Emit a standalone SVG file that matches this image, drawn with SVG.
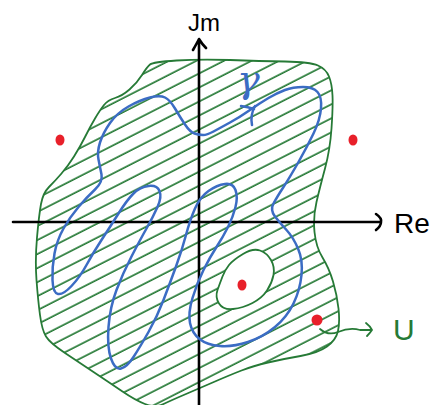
<svg xmlns="http://www.w3.org/2000/svg" width="434" height="405" viewBox="0 0 434 405">
<style>
.green{fill:none;stroke:#267a36;stroke-width:1.8;stroke-linecap:round;stroke-linejoin:round}
.blue{fill:none;stroke:#3b6cc4;stroke-width:2.5;stroke-linecap:round;stroke-linejoin:round}
.axis{fill:none;stroke:#000;stroke-width:2.6;stroke-linecap:round;stroke-linejoin:round}
.dot{fill:#e8202a}
.lbl{font-family:"Liberation Sans",Arial,sans-serif}
</style>
<defs>
<pattern id="hatch" patternUnits="userSpaceOnUse" width="120" height="12.5" patternTransform="rotate(-27)">
<line x1="0" y1="6" x2="120" y2="6" stroke="#267a36" stroke-width="1.7"/>
</pattern>
</defs>
<rect width="434" height="405" fill="#fff"/>
<g id="region-U">
<path fill="url(#hatch)" fill-rule="evenodd" stroke="none" d="M150,64.5 Q153,62 176.5,60.5 Q200,59 230,60 Q260,61 285,61.5 Q310,62 318,65.5 Q326,69 329,76.5 Q332,84 332.5,95.5 Q333,107 331.5,128.5 Q330,150 325,168.5 Q320,187 316.5,202 Q313,217 314.5,232 Q316,247 322.5,257.5 Q329,268 333,281.5 Q337,295 338.5,308.5 Q340,322 338,331 Q336,340 327,346.5 Q318,353 300.5,356 Q283,359 268,362.5 Q253,366 241.5,370.5 Q230,375 215,381.5 Q200,388 186,394 Q172,400 163.5,404 Q155,408 145,404 Q135,400 122.5,391.5 Q110,383 95,373 Q80,363 65,353 Q50,343 46,336.5 Q42,330 40,315 Q38,300 36.5,280 Q35,260 37,237.5 Q39,215 41,204 Q43,193 49,187 Q55,181 61.5,173.5 Q68,166 74,156.5 Q80,147 85,137 Q90,127 95,118.5 Q100,110 104,105 Q108,100 115,98 Q122,96 129.5,89.5 Q137,83 142,75 Q147,67 150,64.5 Z M229,265 Q233,260 243,254 Q253,248 260,250.5 Q267,253 271,260 Q275,267 273.5,275 Q272,283 267,290.5 Q262,298 252.5,303 Q243,308 233,309 Q223,310 219,303.5 Q215,297 217.5,290 Q220,283 222.5,276.5 Q225,270 229,265 Z"/>
<path class="green" d="M150,64.5 Q153,62 176.5,60.5 Q200,59 230,60 Q260,61 285,61.5 Q310,62 318,65.5 Q326,69 329,76.5 Q332,84 332.5,95.5 Q333,107 331.5,128.5 Q330,150 325,168.5 Q320,187 316.5,202 Q313,217 314.5,232 Q316,247 322.5,257.5 Q329,268 333,281.5 Q337,295 338.5,308.5 Q340,322 338,331 Q336,340 327,346.5 Q318,353 300.5,356 Q283,359 268,362.5 Q253,366 241.5,370.5 Q230,375 215,381.5 Q200,388 186,394 Q172,400 163.5,404 Q155,408 145,404 Q135,400 122.5,391.5 Q110,383 95,373 Q80,363 65,353 Q50,343 46,336.5 Q42,330 40,315 Q38,300 36.5,280 Q35,260 37,237.5 Q39,215 41,204 Q43,193 49,187 Q55,181 61.5,173.5 Q68,166 74,156.5 Q80,147 85,137 Q90,127 95,118.5 Q100,110 104,105 Q108,100 115,98 Q122,96 129.5,89.5 Q137,83 142,75 Q147,67 150,64.5 Z"/>
<path class="green" d="M229,265 Q233,260 243,254 Q253,248 260,250.5 Q267,253 271,260 Q275,267 273.5,275 Q272,283 267,290.5 Q262,298 252.5,303 Q243,308 233,309 Q223,310 219,303.5 Q215,297 217.5,290 Q220,283 222.5,276.5 Q225,270 229,265 Z"/>
</g>
<g id="axes">
<path class="axis" d="M13,222 L381,222 M376,214 Q382,218 381,222 Q381,226 376,230"/>
<path class="axis" d="M199,405 L199,40 M193,50 Q197,43 199,39 Q202,44 206,48"/>
</g>
<g id="curve-gamma">
<path class="blue" d="M203,135 Q199,135 194.5,133.5 Q190,132 185,124.5 Q180,117 175,108.5 Q170,100 165,97.5 Q160,95 150,97.5 Q140,100 128.5,106.5 Q117,113 110,123 Q103,133 100,142.5 Q97,152 98.5,159.5 Q100,167 101.5,174.5 Q103,182 95,189.5 Q87,197 78.5,207 Q70,217 63.5,228.5 Q57,240 54.5,253.5 Q52,267 52.5,280 Q53,293 58,294 Q63,295 71.5,286 Q80,277 86.5,265 Q93,253 101.5,240 Q110,227 118.5,213.5 Q127,200 133.5,193.5 Q140,187 148.5,186 Q157,185 159.5,191 Q162,197 157.5,207 Q153,217 146.5,228.5 Q140,240 131.5,256.5 Q123,273 116.5,290 Q110,307 108.5,327 Q107,347 111,358.5 Q115,370 121,368.5 Q127,367 133.5,357 Q140,347 148.5,332 Q157,317 163.5,300 Q170,283 176,266.5 Q182,250 186,235 Q190,220 195,208.5 Q200,197 208.5,191 Q217,185 225,184 Q233,183 235.5,190 Q238,197 235.5,207 Q233,217 228,227 Q223,237 216.5,247 Q210,257 203.5,270 Q197,283 192.5,298 Q188,313 190,323 Q192,333 199.5,339 Q207,345 220,346 Q233,347 248,342 Q263,337 275,327 Q287,317 293.5,303.5 Q300,290 301.5,275 Q303,260 298,248.5 Q293,237 286.5,230 Q280,223 275,216.5 Q270,210 273.5,203.5 Q277,197 283.5,187 Q290,177 298.5,162 Q307,147 313.5,133.5 Q320,120 321,108.5 Q322,97 317.5,92 Q313,87 303,87 Q293,87 285,90 Q277,93 268.5,98 Q260,103 250,110 Q240,117 230,122.5 Q220,128 213.5,131.5 Q207,135 203,135 Z"/>
<path class="blue" d="M241,106 Q248,107 254,109 M255,106 Q250,115 252,125"/>
<text x="237" y="92" font-family="'DejaVu Serif',serif" font-style="italic" font-size="38" fill="#3b6cc4">γ</text>
</g>
<g id="points">
<ellipse class="dot" cx="60" cy="140" rx="4.5" ry="5.5"/>
<ellipse class="dot" cx="353" cy="140" rx="4.5" ry="5.5"/>
<ellipse class="dot" cx="242" cy="285" rx="4.5" ry="5.5"/>
<ellipse class="dot" cx="317" cy="320" rx="5.5" ry="5.5"/>
</g>
<g id="connectors">
<path class="green" stroke-width="2" d="M320,329 Q328,336 338,332 Q350,327 360,330 L371,330 M366,323 Q370,326 372,330 Q370,333 367,336"/>
</g>
<g id="labels">
<text class="lbl" x="188" y="31" font-size="24" fill="#000">Jm</text>
<text class="lbl" x="394" y="233" font-size="28" fill="#000">Re</text>
<text class="lbl" x="393" y="340" font-size="30" fill="#267a36">U</text>
</g>
</svg>
